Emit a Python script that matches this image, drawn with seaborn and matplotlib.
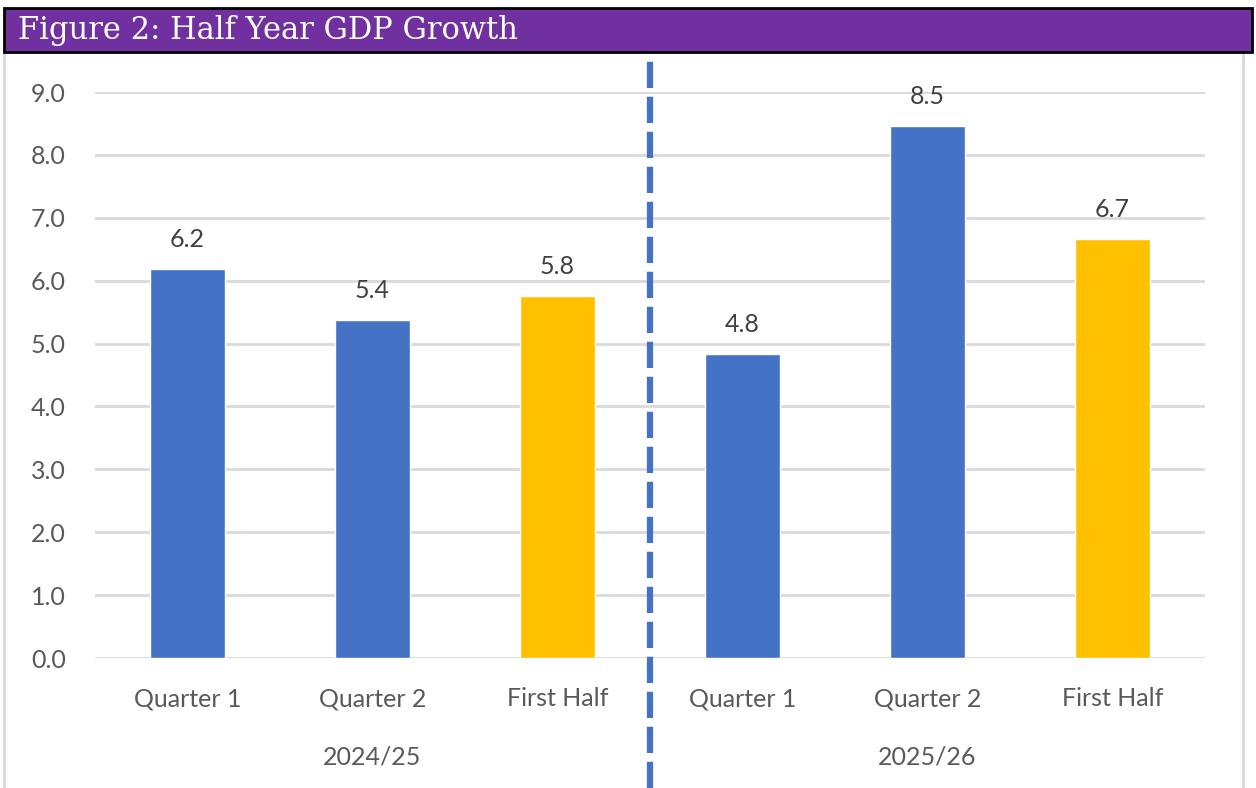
import matplotlib
matplotlib.use("Agg")
import matplotlib.pyplot as plt
import seaborn as sns
import pandas as pd
from matplotlib.patches import Rectangle

# ---- data ----
periods = ["Quarter 1", "Quarter 2", "First Half", "Quarter 1", "Quarter 2", "First Half"]
years = ["2024/25", "2024/25", "2024/25", "2025/26", "2025/26", "2025/26"]
values = [6.18, 5.37, 5.76, 4.84, 8.46, 6.66]
kinds = ["quarter", "quarter", "half", "quarter", "quarter", "half"]
year_groups = ["2024/25", "2025/26"]
yticks = [0, 1, 2, 3, 4, 5, 6, 7, 8, 9]
title = "Figure 2: Half Year GDP Growth"

df = pd.DataFrame({
    "key": [f"{y} {p}" for y, p in zip(years, periods)],
    "value": values,
    "kind": kinds,
})

sns.set_theme(style="white")
plt.rcParams["font.family"] = ["Lato", "DejaVu Sans"]

W, H = 1256, 788
fig = plt.figure(figsize=(W / 100, H / 100), dpi=100)
fig.patch.set_facecolor("white")

FS = 18

# plot area in pixels
left, right, top, bottom = 95, 1205, 92, 658
ax = fig.add_axes([left / W, 1 - bottom / H, (right - left) / W, (bottom - top) / H])

sns.barplot(data=df, x="key", y="value", hue="kind",
            palette={"quarter": "#4472C4", "half": "#FFC000"},
            dodge=False, width=0.405, legend=False, ax=ax, saturation=1)

ax.set_xlim(-0.5, 5.5)
ax.set_ylim(0, 9)
ax.set_yticks(yticks)
ax.set_yticklabels([f"{t:.1f}" for t in yticks], color="#595959", fontsize=FS)
ax.set_xticks(range(len(periods)))
ax.set_xticklabels(periods, color="#595959", fontsize=FS)
ax.tick_params(axis="x", length=0, pad=21)
ax.tick_params(axis="y", length=0, pad=21)
ax.set_xlabel("")
ax.set_ylabel("")
for s in ax.spines.values():
    s.set_visible(False)
ax.yaxis.grid(True, color="#D9D9D9", linewidth=2)
ax.set_axisbelow(True)

# value labels
for i, v in enumerate(values):
    ax.annotate(f"{v:.1f}", (i, v), xytext=(0, 13), textcoords="offset points",
                ha="center", va="bottom", fontsize=FS, color="#404040")

# group labels
for g, yr in enumerate(year_groups):
    ax.text(g * 3 + 1, -(757 - bottom) / (bottom - top), yr,
            transform=ax.get_xaxis_transform(),
            ha="center", va="center", fontsize=FS, color="#595959")

# dashed divider
ax_h = bottom - top
ax.axvline(2.5, ymin=-(H - bottom) / ax_h, ymax=(bottom - 60) / ax_h,
           color="#4472C4", linewidth=4.5, linestyle=(0, (4.2, 1.4)),
           clip_on=False)

# chart border
fig.add_artist(Rectangle((4 / W, -0.01), (1243 - 4) / W, 1 - 52 / H + 0.01,
                         transform=fig.transFigure, facecolor="none",
                         edgecolor="#D9D9D9", linewidth=2))

# title bar
fig.add_artist(Rectangle((4 / W, 1 - 52 / H), (1252 - 4) / W, 44 / H,
                         transform=fig.transFigure, facecolor="#7030A0",
                         edgecolor="black", linewidth=2))
fig.text(18 / W, 1 - 30 / H, title, color="white", fontsize=22,
         family=["DejaVu Serif"], ha="left", va="center")

fig.savefig("out.png", dpi=100)
